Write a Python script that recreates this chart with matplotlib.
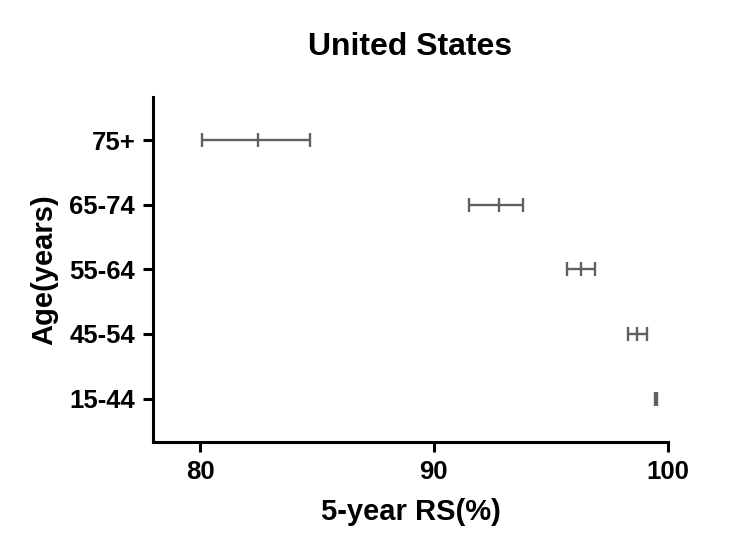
import matplotlib.pyplot as plt
import numpy as np

# 5-year relative survival by age group, United States
ages = ['15-44', '45-54', '55-64', '65-74', '75+']
rs = [99.5, 98.7, 96.3, 92.8, 82.5]
rs_low = [99.45, 98.3, 95.7, 91.5, 80.1]
rs_high = [99.55, 99.1, 96.9, 93.8, 84.7]

plt.rcParams['font.family'] = ['Liberation Sans', 'DejaVu Sans']
plt.rcParams['font.weight'] = 'bold'

fig = plt.figure(figsize=(7.33, 5.35), dpi=100)
ax = fig.add_axes([0.209, 0.174, 0.702, 0.645])

ypos = np.arange(1, len(ages) + 1)
rs = np.array(rs)
xerr = np.array([rs - np.array(rs_low), np.array(rs_high) - rs])

ax.errorbar(rs, ypos, xerr=xerr, fmt='|', color='#606060', ecolor='#606060',
            elinewidth=1.7, capsize=5, capthick=1.7, markersize=10, markeredgewidth=1.7)

ax.set_xlim(78, 100)
ax.set_ylim(0.33, 5.67)
ax.set_xticks([80, 90, 100])
ax.set_yticks(ypos)
ax.set_yticklabels(ages)

for s in ['top', 'right']:
    ax.spines[s].set_visible(False)
for s in ['left', 'bottom']:
    ax.spines[s].set_linewidth(2.2)

ax.tick_params(axis='both', width=2.2, length=7, labelsize=18.5, pad=6)
for lab in ax.get_xticklabels() + ax.get_yticklabels():
    lab.set_fontweight('bold')

ax.set_xlabel('5-year RS(%)', fontsize=21, fontweight='bold', labelpad=10)
ax.set_ylabel('Age(years)', fontsize=21, fontweight='bold', labelpad=8)
ax.set_title('United States', fontsize=23, fontweight='bold', pad=30)

fig.savefig('out.png', dpi=100)
